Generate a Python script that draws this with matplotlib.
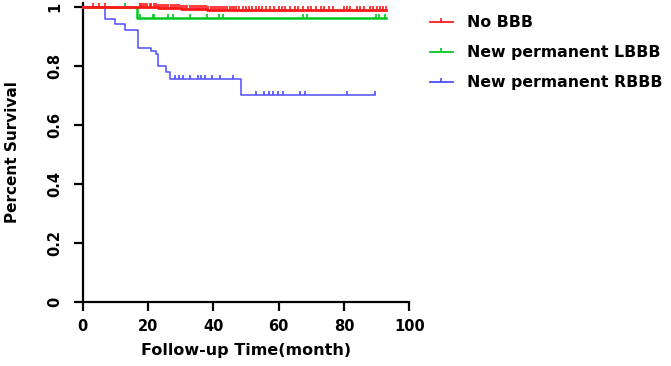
import matplotlib.pyplot as plt
from matplotlib.lines import Line2D

# Kaplan-Meier steps
t_none = [0, 17.5, 20, 23, 26, 30, 34, 38, 42, 46, 93]
s_none = [1.0, 0.9985, 0.997, 0.9955, 0.994, 0.9925, 0.991, 0.9895, 0.988, 0.987, 0.987]
c_none = [3.3, 5.1, 6.8, 17.5, 18, 18.6, 19.2, 19.8, 20.5, 21.1, 21.8, 22.4, 23, 23.7,
          24.3, 25, 25.6, 26.3, 27, 27.6, 28.2, 28.9, 29.5, 30.2, 30.8, 31.5, 32.1,
          32.8, 33.4, 34, 34.7, 35.3, 36, 36.6, 37.2, 37.9, 38.5, 39.2, 39.8, 40.5,
          41.1, 41.8, 42.4, 43, 43.7, 44.3, 45, 45.6, 46.3, 47, 48, 49, 50, 51, 52,
          53, 54, 55, 56, 57.5, 58.5, 60, 61, 62, 63.5, 65, 66, 67.5, 69, 70, 71.5,
          73, 74, 75.5, 76.5, 80, 81, 82, 84, 85, 86, 88, 89, 90, 91, 92, 93]

t_lbbb = [0, 16.8, 93]
s_lbbb = [1.0, 0.961, 0.961]
c_lbbb = [13, 17.5, 21.6, 21.9, 26.2, 27.7, 32.8, 38, 41.8, 43, 67.5, 68.6, 89.8, 90.8, 92.5]

t_rbbb = [0, 6.8, 9.9, 13, 17, 20.8, 22.6, 23, 25.5, 26.7, 48.5, 89.5]
s_rbbb = [1.0, 0.958, 0.94, 0.921, 0.861, 0.85, 0.839, 0.799, 0.779, 0.754, 0.70, 0.70]
c_rbbb = [28.3, 29.6, 30.8, 32.8, 35.4, 36.4, 37.4, 39.5, 42, 45.9,
          53, 55.6, 57, 58.4, 59.9, 61.2, 66.5, 68, 80.8, 89.5]

labels = ["No BBB", "New permanent LBBB", "New permanent RBBB"]
colors = ["#ff1a1a", "#00c81e", "#4d4dff"]


def level(ts, ss, c):
    v = ss[0]
    for a, b in zip(ts, ss):
        if a <= c:
            v = b
    return v


fig = plt.figure(figsize=(6.71, 3.66), dpi=100)
ax = fig.add_axes([0.123, 0.1749, 0.487, 0.817])

series = [(t_lbbb, s_lbbb, c_lbbb, 1.8), (t_rbbb, s_rbbb, c_rbbb, 1.1), (t_none, s_none, c_none, 2.0)]
cols = [colors[1], colors[2], colors[0]]
for (ts, ss, cs, lw), col in zip(series, cols):
    ax.step(ts, ss, where="post", color=col, lw=lw, clip_on=False, zorder=3)
    ax.plot(cs, [level(ts, ss, c) for c in cs], ls="none", marker=2, ms=3,
            mew=1.2, color=col, clip_on=False, zorder=3)

ax.set_xlim(0, 100)
ax.set_ylim(0, 1.012)
ax.set_xticks([0, 20, 40, 60, 80, 100])
ax.set_yticks([0, 0.2, 0.4, 0.6, 0.8, 1])
ax.set_yticklabels(["0", "0.2", "0.4", "0.6", "0.8", "1"], rotation=90, va="center")
for s in ["top", "right"]:
    ax.spines[s].set_visible(False)
for s in ["left", "bottom"]:
    ax.spines[s].set_linewidth(1.6)
ax.tick_params(width=1.6, length=6.5, labelsize=10.5)
ax.tick_params(axis="x", pad=6)
ax.tick_params(axis="y", pad=8)
for lab in ax.get_xticklabels() + ax.get_yticklabels():
    lab.set_fontweight("bold")
ax.set_xlabel("Follow-up Time(month)", fontsize=11.5, fontweight="bold", labelpad=6)
ax.set_ylabel("Percent Survival", fontsize=11, fontweight="bold", labelpad=20)

handles = [Line2D([0], [0], color=c, lw=1.3, marker=2, ms=3, mew=1.2) for c in colors]
leg = fig.legend(handles, labels, loc="upper left", bbox_to_anchor=(0.631, 0.975),
                 borderaxespad=0, frameon=False, handlelength=1.5, handletextpad=0.85,
                 labelspacing=0.95, numpoints=1, prop={"weight": "bold", "size": 11.3})

fig.savefig("out.png", dpi=100)
